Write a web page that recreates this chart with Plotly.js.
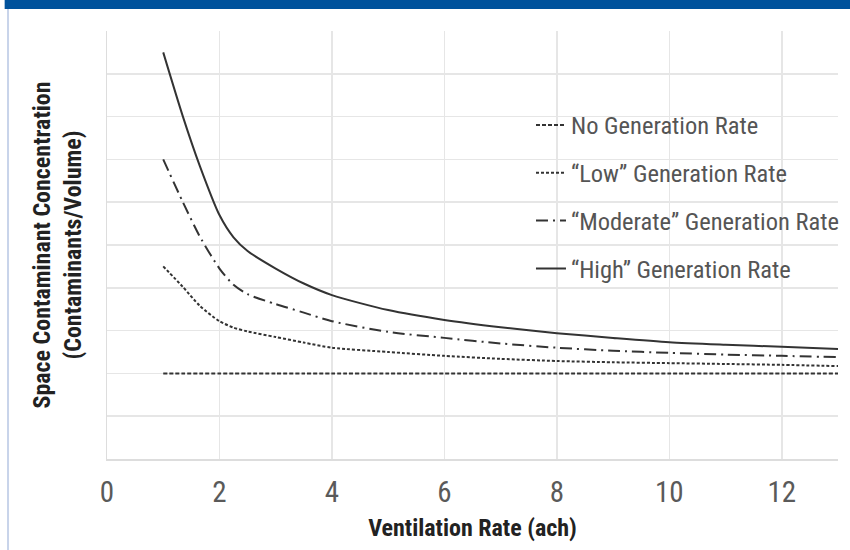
<!DOCTYPE html>
<html>
<head>
<meta charset="utf-8">
<script src="https://cdn.plot.ly/plotly-3.0.1.min.js"></script>
<style>
  html, body { margin: 0; padding: 0; background: #ffffff; }
  #chart { width: 850px; height: 550px; }
</style>
</head>
<body>
<div id="chart"></div>
<script>
// Ventilation rate (air changes per hour)
var ventilationRate = [1, 1.35, 1.65, 2, 2.25, 2.5, 3, 3.5, 4, 5, 6, 7, 8, 9, 10, 11, 12, 13];

// Space contaminant concentration (relative units)
var noGeneration  = [2.0, 2.0, 2.0, 2.0, 2.0, 2.0, 2.0, 2.0, 2.0, 2.0, 2.0, 2.0, 2.0, 2.0, 2.0, 2.0, 2.0, 2.0];
var lowGeneration = [4.5, 4.02, 3.58, 3.22, 3.07, 2.98, 2.85, 2.72, 2.6, 2.5, 2.41, 2.34, 2.29, 2.26, 2.24, 2.22, 2.2, 2.17];
var modGeneration = [7.0, 6.0, 5.2, 4.45, 4.07, 3.85, 3.62, 3.42, 3.22, 2.97, 2.83, 2.7, 2.6, 2.53, 2.48, 2.44, 2.41, 2.38];
var highGeneration = [9.5, 8.0, 6.85, 5.7, 5.18, 4.86, 4.45, 4.1, 3.83, 3.48, 3.25, 3.08, 2.94, 2.83, 2.73, 2.67, 2.62, 2.57];

var seriesNames = ['No Generation Rate', '\u201cLow\u201d Generation Rate', '\u201cModerate\u201d Generation Rate', '\u201cHigh\u201d Generation Rate'];
var xTickVals = [0, 2, 4, 6, 8, 10, 12];
var xTickText = ['0', '2', '4', '6', '8', '10', '12'];

var FONT = '"Roboto Condensed", "Open Sans", sans-serif';
var LINE = '#333333';

function mk(name, y, dash, grp) {
  return {
    type: 'scatter', mode: 'lines', name: name,
    x: ventilationRate, y: y,
    line: { color: LINE, width: 2, dash: dash, shape: 'spline', smoothing: 0.7 },
    legendgroup: grp, hoverinfo: 'x+y'
  };
}

var data = [
  mk(seriesNames[0], noGeneration, '4px,2px', 'a'),
  mk(seriesNames[1], lowGeneration, '3px,2px', 'b'),
  mk(seriesNames[2], modGeneration, '12px,5px,2px,5px', 'c'),
  mk(seriesNames[3], highGeneration, 'solid', 'd')
];

var layout = {
  width: 850, height: 550,
  margin: { l: 107, r: 12, t: 31, b: 91, pad: 0, autoexpand: false },
  paper_bgcolor: '#ffffff', plot_bgcolor: '#ffffff',
  font: { family: FONT, color: '#555555' },
  showlegend: true,
  legend: {
    x: 0.58, y: 0.833, xanchor: 'left', yanchor: 'top',
    bgcolor: 'rgba(255,255,255,0)',
    font: { family: FONT, size: 24.5, color: '#555555' },
    traceorder: 'grouped', tracegroupgap: 13
  },
  xaxis: {
    range: [0, 13], tickvals: xTickVals, ticktext: xTickText,
    showgrid: true, gridcolor: '#e6e6e6', gridwidth: 1.5,
    zeroline: false, showline: true, linecolor: '#dddddd', linewidth: 1.5,
    ticks: 'outside', ticklen: 7, tickcolor: 'rgba(0,0,0,0)',
    tickfont: { family: FONT, size: 29, color: '#5a5a5a' },
    title: { text: 'Ventilation Rate (ach)', standoff: 11,
             font: { family: FONT, size: 24, color: '#222222', weight: 'bold' } },
    fixedrange: true
  },
  yaxis: {
    range: [0, 10], dtick: 1, showticklabels: false,
    showgrid: true, gridcolor: '#e6e6e6', gridwidth: 1.5,
    zeroline: false, showline: true, linecolor: '#dddddd', linewidth: 1.5,
    ticks: '',
    title: { text: 'Space Contaminant Concentration<br>(Contaminants/Volume)', standoff: 17,
             font: { family: FONT, size: 24, color: '#222222', weight: 'bold' } },
    fixedrange: true
  },
  shapes: [
    { type: 'rect', xref: 'paper', yref: 'paper', x0: -0.14, x1: 1.02, y0: 1.0514, y1: 1.08,
      fillcolor: '#00529c', line: { width: 0 }, layer: 'above' },
    { type: 'line', xref: 'paper', yref: 'paper', x0: -0.1354, x1: -0.1354, y0: -0.22, y1: 1.0514,
      line: { color: '#c8d4ea', width: 2 } }
  ]
};

Plotly.newPlot('chart', data, layout, { displayModeBar: false, staticPlot: true });
</script>
</body>
</html>
